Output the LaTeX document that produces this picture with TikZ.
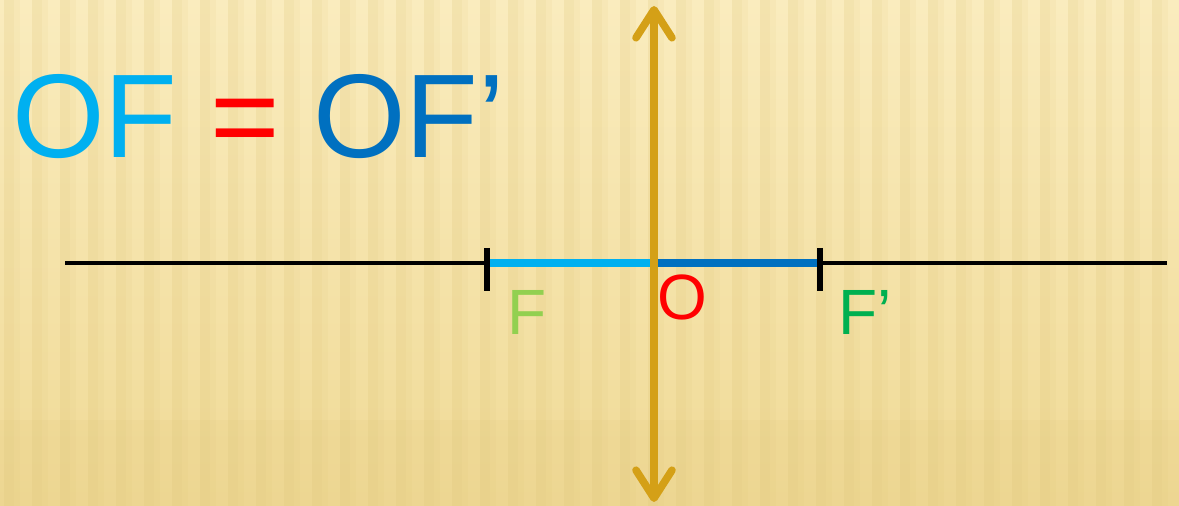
\documentclass[tikz,border=0pt]{standalone}
\usepackage{fontspec}
\setmainfont{Liberation Sans}
\usetikzlibrary{arrows.meta}
\definecolor{bgtop}{RGB}{250,236,190}
\definecolor{bgbot}{RGB}{240,218,150}
\definecolor{stripe}{RGB}{222,196,120}
\definecolor{lightblue}{RGB}{0,176,240}
\definecolor{darkblue}{RGB}{0,112,192}
\definecolor{lensgold}{RGB}{212,160,23}
\definecolor{lightgreen}{RGB}{146,208,80}
\definecolor{darkgreen}{RGB}{0,176,80}
\definecolor{eqred}{RGB}{255,0,0}
\tikzset{
  axis/.style={draw=black, line width=2pt},
  tickmark/.style={draw=black, line width=2.8pt},
  seg/.style={line width=4pt},
  lens/.style={draw=lensgold, line width=3.8pt, line cap=round,
    {Straight Barb[length=14pt,width=18pt,round]}-{Straight Barb[length=14pt,width=18pt,round]}},
  lbl/.style={inner sep=0pt, anchor=base west, font=\fontsize{32}{32}\selectfont},
}
\begin{document}
\begin{tikzpicture}[x=0.5pt,y=-0.5pt]
\useasboundingbox (0,0) rectangle (1179,506);
\shade[top color=bgtop, bottom color=bgbot] (0,0) rectangle (1179,506);
\foreach \i in {0,...,41} {
  \fill[stripe, opacity=0.22] ({\i*28+4},0) rectangle ({\i*28+14},506);
  \fill[stripe, opacity=0.10] ({\i*28+14},0) rectangle ({\i*28+20},506);
}
\fill[stripe, opacity=0.15] (0,420) rectangle (1179,506);
% axis points
\coordinate (L) at (65,263);
\coordinate (R) at (1167,263);
\coordinate (F) at (487,263);
\coordinate (O) at (654,263);
\coordinate (Fp) at (820,263);
\coordinate (Ft) at (487,248);
\coordinate (Fb) at (487,291);
\coordinate (Fpt) at (820,248);
\coordinate (Fpb) at (820,291);
\coordinate (top) at (654,6);
\coordinate (bot) at (654,502);
\draw[axis] (L) -- (F);
\draw[axis] (Fp) -- (R);
\draw[seg, lightblue] (F) -- (O);
\draw[seg, darkblue] (O) -- (Fp);
\draw[tickmark] (Ft) -- (Fb);
\draw[tickmark] (Fpt) -- (Fpb);
\draw[lens] (bot) -- (top);
% labels
\node[inner sep=0pt, anchor=base west, font=\fontsize{59.5}{59.5}\selectfont] (eq) at (12,158)
  {\textcolor{lightblue}{OF} \textcolor{eqred}{=} \textcolor{darkblue}{OF’}};
\node[lbl, text=lightgreen] (lF) at (507,335) {F};
\node[lbl, text=eqred] (lO) at (657,320) {O};
\node[lbl, text=darkgreen] (lFp) at (838,335) {F’};
\end{tikzpicture}
\end{document}
